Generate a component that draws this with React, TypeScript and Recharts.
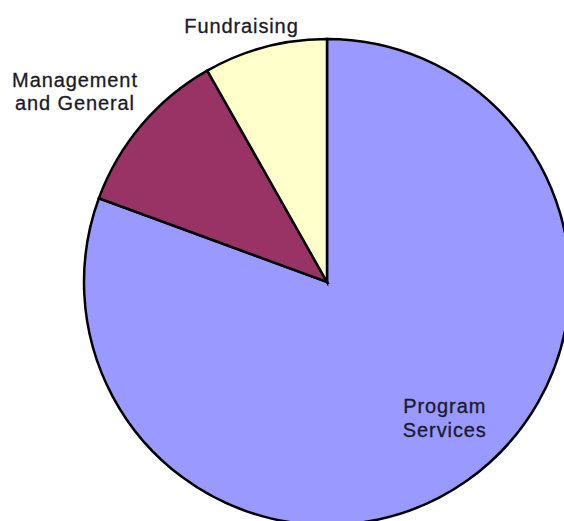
import React from "react";
import { PieChart, Pie, Cell } from "recharts";

const categories = ["Program Services", "Management and General", "Fundraising"];
const labelLines = [["Program", "Services"], ["Management", "and General"], ["Fundraising"]];
const values = [80.6, 11.2, 8.2];
const colors = ["#9999FF", "#993366", "#FFFFCC"];
// label placement relative to slice geometry: radial factor, angle tweak (deg)
const labelRadius = [0.743, 1.306, 1.116];
const labelAngleShift = [6, 3.2, 3.7];

const data = categories.map((name, i) => ({ name, value: values[i] }));

const RAD = Math.PI / 180;
const LINE_GAP = 23.5;
const CAP = 14.5;

const renderLabel = (props: any) => {
  const { cx, cy, midAngle, outerRadius, index } = props;
  const a = (midAngle + labelAngleShift[index]) * RAD;
  const r = 242 * labelRadius[index];
  const x = cx + r * Math.cos(a);
  const yc = cy - r * Math.sin(a);
  const lines = labelLines[index];
  const total = (lines.length - 1) * LINE_GAP + CAP;
  const firstBase = yc - total / 2 + CAP;
  return (
    <g key={"lbl" + index}>
      {lines.map((t, j) => (
        <text
          key={j}
          x={x}
          y={firstBase + j * LINE_GAP}
          textAnchor="middle"
          fontFamily="'Liberation Sans', Arial, sans-serif"
          fontSize={20}
          letterSpacing={0.9}
          fill="#1a1a2a"
          stroke="#1a1a2a"
          strokeWidth={0.3}
        >
          {t}
        </text>
      ))}
    </g>
  );
};

export default function App() {
  return (
    <div style={{ position: "absolute", left: 0, top: 0, background: "#fff" }}>
      <PieChart width={564} height={521} margin={{ top: 0, right: 0, bottom: 0, left: 0 }}>
        <Pie
          data={data}
          dataKey="value"
          nameKey="name"
          cx={327}
          cy={282}
          outerRadius={243}
          startAngle={90}
          endAngle={-270}
          stroke="#000"
          strokeWidth={2.5}
          label={renderLabel}
          labelLine={false}
          isAnimationActive={false}
        >
          {data.map((d, i) => (
            <Cell key={d.name} fill={colors[i]} stroke="#000" strokeWidth={2.5} />
          ))}
        </Pie>
      </PieChart>
    </div>
  );
}
